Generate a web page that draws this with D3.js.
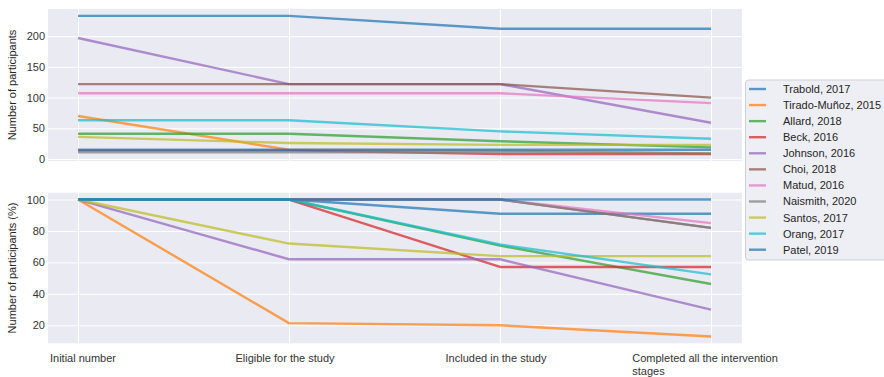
<!DOCTYPE html>
<html>
<head>
<meta charset="utf-8">
<script src="https://cdn.jsdelivr.net/npm/d3@7"></script>
<style>
  html, body { margin: 0; padding: 0; background: #ffffff; }
  svg { display: block; }
  text { font-family: "Liberation Sans", Arial, sans-serif; }
</style>
</head>
<body>
<svg id="chart" width="884" height="377"></svg>
<script>
// ---------------- DATA ----------------
const stages = ["Initial number", "Eligible for the study", "Included in the study", "Completed all the intervention\nstages"];
const studies = ["Trabold, 2017", "Tirado-Muñoz, 2015", "Allard, 2018", "Beck, 2016", "Johnson, 2016", "Choi, 2018", "Matud, 2016", "Naismith, 2020", "Santos, 2017", "Orang, 2017", "Patel, 2019"];

// Number of participants per stage
const countTrabold  = [233, 233, 212, 212];
const countTirado   = [70, 15, 14, 9];
const countAllard   = [41, 41, 29, 19];
const countBeck     = [14, 14, 8, 8];
const countJohnson  = [197, 122, 122, 59];
const countChoi     = [122, 122, 122, 100];
const countMatud    = [107, 107, 107, 91];
const countNaismith = [11, 11, 11, 9];
const countSantos   = [36, 26, 23, 23];
const countOrang    = [63, 63, 45, 33];
const countPatel    = [15, 15, 15, 15];

// Percentage of participants per stage
const pctTrabold  = [100, 100, 91, 91];
const pctTirado   = [100, 21.4, 20, 12.9];
const pctAllard   = [100, 100, 70.7, 46.3];
const pctBeck     = [100, 100, 57.1, 57.1];
const pctJohnson  = [100, 62, 62, 30];
const pctChoi     = [100, 100, 100, 82];
const pctMatud    = [100, 100, 100, 85];
const pctNaismith = [100, 100, 100, 82];
const pctSantos   = [100, 72, 64, 64];
const pctOrang    = [100, 100, 71.4, 52.4];
const pctPatel    = [100, 100, 100, 100];

const countTicks = [0, 50, 100, 150, 200];
const pctTicks = [20, 40, 60, 80, 100];

const counts = [countTrabold, countTirado, countAllard, countBeck, countJohnson, countChoi, countMatud, countNaismith, countSantos, countOrang, countPatel];
const pcts = [pctTrabold, pctTirado, pctAllard, pctBeck, pctJohnson, pctChoi, pctMatud, pctNaismith, pctSantos, pctOrang, pctPatel];

const colors = ["#1f77b4", "#ff7f0e", "#2ca02c", "#d62728", "#9467bd", "#8c564b", "#e377c2", "#7f7f7f", "#bcbd22", "#17becf", "#1f77b4"];

// ---------------- LAYOUT ----------------
const svg = d3.select("#chart");
const plotL = 48, plotR = 742;
const x = d3.scalePoint().domain(stages).range([78, 711]);

function paddedDomain(arrays) {
  const all = arrays.flat();
  const mn = d3.min(all), mx = d3.max(all);
  const m = (mx - mn) * 0.05;
  return [mn - m, mx + m];
}

const panels = [
  { data: counts, ticks: countTicks, top: 9, bottom: 161, label: "Number of participants", showX: false },
  { data: pcts, ticks: pctTicks, top: 192.7, bottom: 343.3, label: "Number of participants (%)", showX: true }
];

panels.forEach(p => {
  const y = d3.scaleLinear().domain(paddedDomain(p.data)).range([p.bottom, p.top]);
  const g = svg.append("g");
  g.append("rect").attr("x", plotL).attr("y", p.top).attr("width", plotR - plotL).attr("height", p.bottom - p.top).attr("fill", "#eaeaf2");

  // horizontal grid + y labels
  const yAxis = d3.axisLeft(y).tickValues(p.ticks).tickSize(-(plotR - plotL)).tickPadding(3).tickFormat(d3.format("d"));
  const ya = g.append("g").attr("transform", `translate(${plotL},0)`).call(yAxis);
  ya.select(".domain").remove();
  ya.selectAll(".tick line").attr("stroke", "#ffffff").attr("stroke-width", 1);
  ya.selectAll(".tick text").attr("fill", "#333333").attr("font-size", 11).attr("font-family", "Liberation Sans, Arial, sans-serif");

  // vertical grid
  const xAxis = d3.axisBottom(x).tickSize(-(p.bottom - p.top)).tickFormat("");
  const xa = g.append("g").attr("transform", `translate(0,${p.bottom})`).call(xAxis);
  xa.select(".domain").remove();
  xa.selectAll(".tick line").attr("stroke", "#ffffff").attr("stroke-width", 1);

  // lines
  const line = d3.line().x((d, i) => x(stages[i])).y(d => y(d));
  p.data.forEach((arr, i) => {
    g.append("path").datum(arr).attr("d", line).attr("fill", "none")
      .attr("stroke", colors[i]).attr("stroke-opacity", 0.72).attr("stroke-width", 2.4)
      .attr("stroke-linejoin", "round");
  });

  // y label
  const cy = (p.top + p.bottom) / 2;
  g.append("text").attr("transform", `translate(16,${cy}) rotate(-90)`)
    .attr("text-anchor", "middle").attr("font-size", 11).attr("fill", "#262626").text(p.label);

  if (p.showX) {
    stages.forEach((s, si) => {
      const lines = s.split("\n");
      const t = g.append("text").attr("font-size", 11).attr("fill", "#333333");
      if (lines.length === 1) {
        t.attr("x", x(s) + (si === 0 ? 5 : -4)).attr("y", 362).attr("text-anchor", "middle").text(s);
      } else {
        const probe = t.append("tspan").text(lines[0]);
        const w = probe.node().getComputedTextLength();
        probe.remove();
        lines.forEach((ln, k) => {
          t.append("tspan").attr("x", x(s) - w / 2 - 6).attr("y", 362 + k * 12.5).text(ln);
        });
      }
    });
  }
});

// ---------------- LEGEND ----------------
const lg = svg.append("g");
lg.append("rect").attr("x", 745.5).attr("y", 80).attr("width", 160).attr("height", 180)
  .attr("rx", 3).attr("fill", "#eeeef5").attr("stroke", "#cfcfd6").attr("stroke-width", 1);
studies.forEach((s, i) => {
  const yy = 89 + i * 16.07;
  lg.append("line").attr("x1", 749).attr("x2", 766).attr("y1", yy).attr("y2", yy)
    .attr("stroke", colors[i]).attr("stroke-opacity", 0.72).attr("stroke-width", 2.4);
  lg.append("text").attr("x", 783).attr("y", yy + 4).attr("font-size", 11).attr("fill", "#262626").text(s);
});
</script>
</body>
</html>
